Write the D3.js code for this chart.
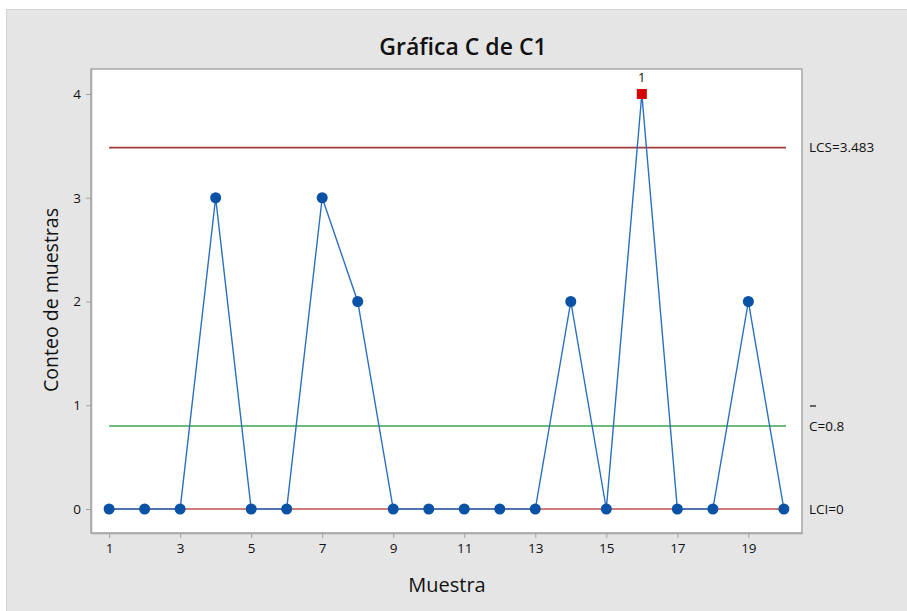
<!DOCTYPE html>
<html><head><meta charset="utf-8">
<script src="https://cdn.jsdelivr.net/npm/d3@7"></script>
<style>body{margin:0;background:#fff}svg{display:block}text{font-family:"Open Sans","Noto Sans",sans-serif;fill:#111}</style>
</head><body><svg id="c" width="907" height="611"></svg>
<script>
const samples = d3.range(1, 21);
const counts = [0,0,0,3,0,0,3,2,0,0,0,0,0,2,0,4,0,0,2,0];
const xTicks = [1,3,5,7,9,11,13,15,17,19];
const yTicks = [0,1,2,3,4];
const limits = [
  {name:"LCS", value:3.483, label:"LCS=3.483", color:"#a33a3a"},
  {name:"C", value:0.8, label:"C=0.8", color:"#6dbb7d"},
  {name:"LCI", value:0, label:"LCI=0", color:"#c0504d"}
];
const outOfControl = [16];

const svg = d3.select("#c");
const L=91, T=69, R=802, B=533;
svg.append("rect").attr("x",6.5).attr("y",9.5).attr("width",910).attr("height",610)
  .attr("fill","#e5e5e5").attr("stroke","#d2d2d2");
svg.append("rect").attr("x",L).attr("y",T).attr("width",R-L).attr("height",B-T)
  .attr("fill","#fff").attr("stroke","#a8a8a8").attr("stroke-width",1.5);

const x = d3.scaleLinear().domain([0.49,20.51]).range([L,R]);
const y = d3.scaleLinear().domain([-0.2313,4.241]).range([B,T]);

const xa = svg.append("g").attr("transform",`translate(0,${B})`)
  .call(d3.axisBottom(x).tickValues(xTicks).tickSize(5).tickSizeOuter(0).tickPadding(5).tickFormat(d3.format("d")));
const ya = svg.append("g").attr("transform",`translate(${L},0)`)
  .call(d3.axisLeft(y).tickValues(yTicks).tickSize(5).tickSizeOuter(0).tickPadding(5).tickFormat(d3.format("d")));
[xa,ya].forEach(a=>{
  a.select(".domain").attr("stroke","#a8a8a8").attr("stroke-width",1.5);
  a.selectAll(".tick line").attr("stroke","#a0a0a0");
  a.selectAll(".tick text").attr("font-size",13.5).attr("fill","#111");
});

// control lines
limits.forEach(l=>{
  svg.append("line").attr("x1",x(1)).attr("x2",x(20.06))
    .attr("y1",y(l.value)).attr("y2",y(l.value))
    .attr("stroke",l.color).attr("stroke-width",l.name==="C"?2:1.6);
  svg.append("text").attr("x",809).attr("y",y(l.value)).attr("dy","0.35em")
    .attr("font-size",13.5).text(l.label);
  if(l.name==="C"){
    svg.append("line").attr("x1",810).attr("x2",816).attr("y1",y(l.value)-20).attr("y2",y(l.value)-20)
      .attr("stroke","#111").attr("stroke-width",1.2);
  }
});

const line = d3.line().x((d,i)=>x(samples[i])).y(d=>y(d));
svg.append("path").datum(counts).attr("d",line).attr("fill","none")
  .attr("stroke","#2a6fc0").attr("stroke-width",1.4);

const pts = samples.map((s,i)=>({s, v:counts[i]}));
svg.selectAll("circle.p").data(pts.filter(p=>!outOfControl.includes(p.s))).join("circle")
  .attr("cx",d=>x(d.s)).attr("cy",d=>y(d.v)).attr("r",5.5).attr("fill","#0a52a6");
const oc = pts.filter(p=>outOfControl.includes(p.s));
svg.selectAll("rect.o").data(oc).join("rect")
  .attr("x",d=>x(d.s)-5).attr("y",d=>y(d.v)-5).attr("width",10).attr("height",10).attr("fill","#d40000");
svg.selectAll("text.o").data(oc).join("text")
  .attr("x",d=>x(d.s)).attr("y",d=>y(d.v)-12).attr("text-anchor","middle").attr("font-size",13).attr("fill","#111").text("1");

svg.append("text").attr("x",463).attr("y",55).attr("text-anchor","middle")
  .attr("font-size",23).attr("font-weight",600).attr("fill","#222").text("Gráfica C de C1");
svg.append("text").attr("x",447).attr("y",592).attr("text-anchor","middle")
  .attr("font-size",20).text("Muestra");
svg.append("text").attr("transform",`translate(58,${(T+B)/2-1}) rotate(-90)`).attr("text-anchor","middle")
  .attr("font-size",19.5).text("Conteo de muestras");
</script></body></html>
